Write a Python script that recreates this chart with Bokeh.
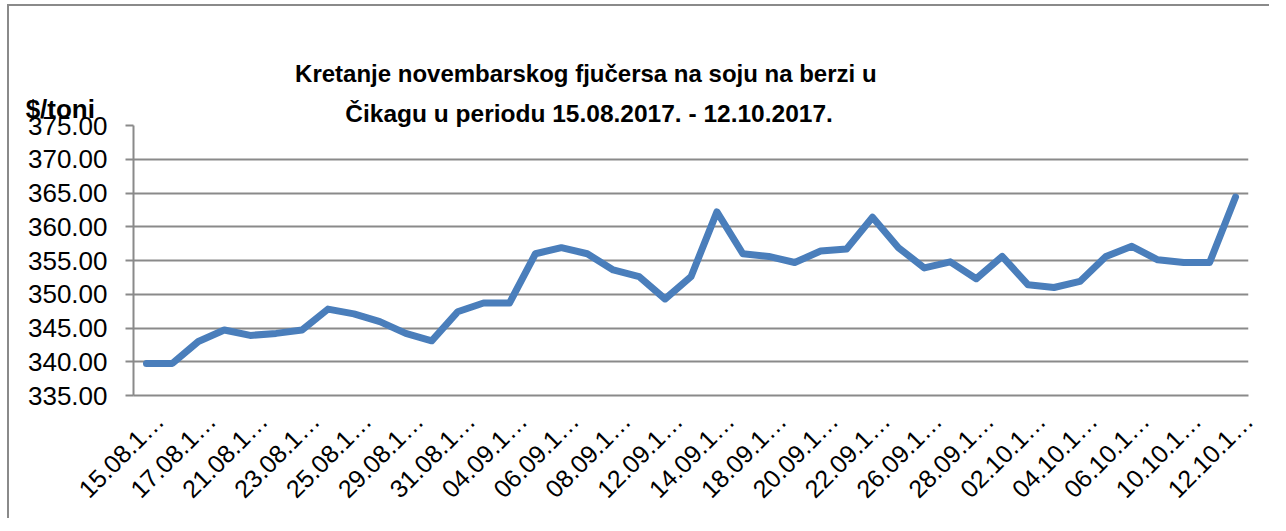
import math
from bokeh.plotting import figure
from bokeh.models import Range1d, FixedTicker, Label, PrintfTickFormatter
from bokeh.embed import file_html
from bokeh.resources import INLINE

# ---- data ----
dates = [
    "15.08.17.", "16.08.17.", "17.08.17.", "18.08.17.", "21.08.17.", "22.08.17.",
    "23.08.17.", "24.08.17.", "25.08.17.", "28.08.17.", "29.08.17.", "30.08.17.",
    "31.08.17.", "01.09.17.", "04.09.17.", "05.09.17.", "06.09.17.", "07.09.17.",
    "08.09.17.", "11.09.17.", "12.09.17.", "13.09.17.", "14.09.17.", "15.09.17.",
    "18.09.17.", "19.09.17.", "20.09.17.", "21.09.17.", "22.09.17.", "25.09.17.",
    "26.09.17.", "27.09.17.", "28.09.17.", "29.09.17.", "02.10.17.", "03.10.17.",
    "04.10.17.", "05.10.17.", "06.10.17.", "09.10.17.", "10.10.17.", "11.10.17.",
    "12.10.17.",
]
prices = [
    339.75, 339.75, 343.0, 344.7, 343.9, 344.2,
    344.7, 347.8, 347.1, 345.95, 344.2, 343.1,
    347.4, 348.7, 348.7, 356.0, 356.9, 356.0,
    353.6, 352.6, 349.3, 352.6, 362.2, 356.0,
    355.6, 354.7, 356.4, 356.7, 361.4, 356.9,
    353.9, 354.8, 352.3, 355.6, 351.4, 351.0,
    351.9, 355.6, 357.1, 355.1, 354.7, 354.7,
    364.4,
]
y_ticks = [335, 340, 345, 350, 355, 360, 365, 370, 375]
title_lines = [
    "Kretanje novembarskog  fjučersa  na soju na berzi u",
    "Čikagu  u periodu 15.08.2017. - 12.10.2017.",
]
y_unit = "$/toni"

# category positions and the shown (truncated) labels, every other one;
# labels are anchored at the right edge of their category slot
x_pos = list(range(len(dates)))
label_idx = x_pos[::2]
label_at = [i + 0.5 for i in label_idx]
tick_text = {i + 0.5: dates[i][:7] + "…" for i in label_idx}

FONT = "Liberation Sans"
GRID = "#8a8a8a"

p = figure(
    width=1262, height=514,
    x_range=Range1d(-0.5, len(dates) - 0.5), y_range=Range1d(335, 375),
    output_backend="svg", toolbar_location=None,
    min_border_left=124, min_border_right=23,
    min_border_top=119, min_border_bottom=125,
)
p.styles = {"border-left": "2px solid #8a8a8a", "border-top": "2px solid #8a8a8a",
            "margin-left": "7px", "margin-top": "4px"}
p.outline_line_color = None
p.background_fill_color = "white"
p.border_fill_color = "white"

p.line(x=x_pos, y=prices, line_color="#4a7ebb", line_width=7,
       line_join="round", line_cap="round")

# y axis
p.yaxis.ticker = FixedTicker(ticks=y_ticks)
p.yaxis.formatter = PrintfTickFormatter(format="%.2f")
p.yaxis.major_tick_out = 8
p.yaxis.major_tick_in = 0
p.yaxis.minor_tick_line_color = None
p.yaxis.major_tick_line_color = GRID
p.yaxis.major_tick_line_width = 2
p.yaxis.axis_line_color = GRID
p.yaxis.axis_line_width = 2
p.yaxis.major_label_text_font = FONT
p.yaxis.major_label_text_font_size = "26px"
p.yaxis.major_label_text_color = "black"
p.yaxis.major_label_standoff = 18

p.ygrid.ticker = FixedTicker(ticks=y_ticks)
p.ygrid.grid_line_color = GRID
p.ygrid.grid_line_width = 2
p.xgrid.grid_line_color = None

# x axis
p.xaxis.ticker = FixedTicker(ticks=label_at)
p.xaxis.major_label_overrides = tick_text
p.xaxis.major_label_orientation = math.pi / 4
p.xaxis.major_tick_line_color = None
p.xaxis.minor_tick_line_color = None
p.xaxis.axis_line_color = GRID
p.xaxis.axis_line_width = 2
p.xaxis.major_label_text_font = FONT
p.xaxis.major_label_text_font_size = "25px"
p.xaxis.major_label_text_color = "black"
p.xaxis.major_label_standoff = 15

# title and unit label, placed in the panel above the plot area
p.add_layout(Label(x=17.2, y=382.7, text=title_lines[0], text_align="center",
                   text_baseline="alphabetic", text_font=FONT, text_font_style="bold",
                   text_font_size="24px", text_color="black"), "above")
p.add_layout(Label(x=17.2, y=376.75, text=title_lines[1], text_align="center",
                   text_baseline="alphabetic", text_font=FONT, text_font_style="bold",
                   text_font_size="24.5px", text_color="black"), "above")
p.add_layout(Label(x=-4.66, y=377.5, text=y_unit, text_align="left",
                   text_baseline="alphabetic", text_font=FONT, text_font_style="bold",
                   text_font_size="26px", text_color="black"), "above")

open("out.html", "w").write(file_html(p, INLINE))
